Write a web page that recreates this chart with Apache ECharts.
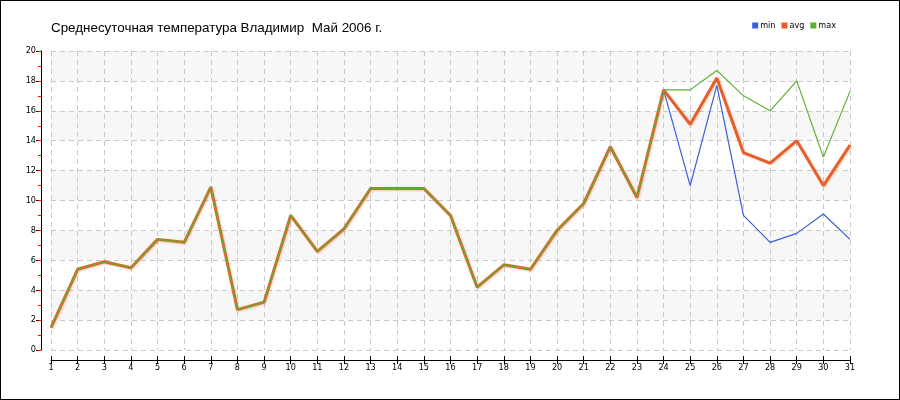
<!DOCTYPE html>
<html><head><meta charset="utf-8">
<script src="https://cdn.jsdelivr.net/npm/echarts@6/dist/echarts.min.js"></script>
<style>html,body{margin:0;padding:0;background:#fff}#c{width:900px;height:400px;box-sizing:border-box;border:1px solid #000}</style>
</head><body><div id="c"></div>
<script>
const days = ['1','2','3','4','5','6','7','8','9','10','11','12','13','14','15','16','17','18','19','20','21','22','23','24','25','26','27','28','29','30','31'];
const minT = [1.5,5.4,5.9,5.5,7.4,7.2,10.9,2.7,3.2,9.0,6.6,8.1,10.8,10.8,10.8,9.0,4.2,5.7,5.4,8.0,9.8,13.6,10.2,17.4,11.0,17.7,9.0,7.2,7.8,9.1,7.4];
const avgT = [1.5,5.4,5.9,5.5,7.4,7.2,10.9,2.7,3.2,9.0,6.6,8.1,10.8,10.8,10.8,9.0,4.2,5.7,5.4,8.0,9.8,13.6,10.2,17.4,15.1,18.2,13.2,12.5,14.0,11.0,13.7];
const maxT = [1.5,5.4,5.9,5.5,7.4,7.2,10.9,2.7,3.2,9.0,6.6,8.1,10.8,10.8,10.8,9.0,4.2,5.7,5.4,8.0,9.8,13.6,10.2,17.4,17.4,18.7,17.0,16.0,18.0,12.9,17.3];
const seriesNames = ['min','avg','max'];
const titleText = 'Среднесуточная температура Владимир  Май 2006 г.';

const colors = ['#3a5ee0','#e65f2b','#5cb030'];
const chart = echarts.init(document.getElementById('c'), null, {renderer:'canvas'});
chart.setOption({
  animation:false,
  color: colors,
  title:{text:titleText,left:50,top:21,padding:0,textStyle:{fontFamily:'Liberation Sans',fontSize:13.4,fontWeight:'normal',color:'#000'}},
  legend:{right:58,top:15,itemWidth:6,itemHeight:6,itemGap:6,icon:'rect',
    textStyle:{fontFamily:'DejaVu Sans Condensed',fontSize:9,color:'#000',padding:[0,0,0,-3]},
    data:seriesNames},
  grid:{left:50,right:49,top:50,bottom:49,containLabel:false},
  xAxis:[{type:'category',data:days,boundaryGap:false,offset:10,
    axisLine:{onZero:false,lineStyle:{color:'#000',width:1}},
    axisTick:{show:true,length:4,alignWithLabel:true,lineStyle:{color:'#000'}},
    axisLabel:{fontFamily:'DejaVu Sans Condensed',fontSize:9,color:'#000',margin:3,interval:0},
    splitLine:{show:true,interval:0,lineStyle:{color:'#c8c8c8',type:[5,4]}}},
   {type:'category',data:days,boundaryGap:false,offset:10,position:'bottom',
    axisLine:{show:false,onZero:false},
    axisTick:{show:true,inside:true,length:4,lineStyle:{color:'#000'}},
    axisLabel:{show:false},splitLine:{show:false}}],
  yAxis:[{type:'value',min:0,max:20,interval:2,offset:10,
    axisLine:{show:true,lineStyle:{color:'#000'}},
    axisTick:{show:true,length:5,lineStyle:{color:'#000'}},
    axisLabel:{fontFamily:'DejaVu Sans Condensed',fontSize:9,color:'#000',margin:5},
    splitLine:{show:true,lineStyle:{color:'#c8c8c8',type:[5,4]}},
    splitArea:{show:true,areaStyle:{color:['#ffffff','#f7f7f7']}}},
   {type:'value',min:0,max:20,interval:1,offset:10,position:'left',
    axisLine:{show:false},
    axisTick:{show:true,length:3,lineStyle:{color:'#ff0000',width:1}},
    axisLabel:{show:false},splitLine:{show:false},splitArea:{show:false}}],
  series:[
    {name:seriesNames[0],type:'line',data:minT,symbol:'none',lineStyle:{width:1.2,color:colors[0]}},
    {name:seriesNames[1],type:'line',data:avgT,symbol:'none',lineStyle:{width:3,color:colors[1],shadowColor:'rgba(230,95,43,0.3)',shadowBlur:2,shadowOffsetX:1,shadowOffsetY:1}},
    {name:seriesNames[2],type:'line',data:maxT,symbol:'none',lineStyle:{width:1.2,color:colors[2]}}
  ]
});
</script></body></html>
